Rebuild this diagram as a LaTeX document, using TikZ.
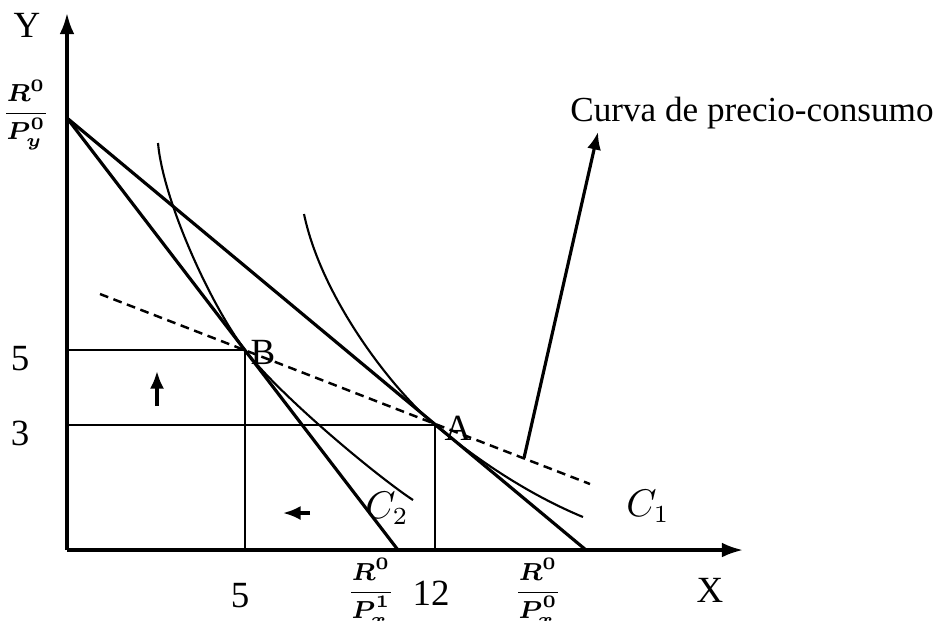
\documentclass[tikz,border=0pt]{standalone}
\usepackage{amsmath}
\usepackage{fontspec}
\setmainfont{Liberation Serif}
\usetikzlibrary{arrows.meta}

\begin{document}
\begin{tikzpicture}[x=0.01cm, y=-0.01cm, >=Latex, line join=round,
    font=\fontsize{10.5}{12}\selectfont,
    eje/.style={line width=0.9pt, -{Latex[length=6pt,width=4.2pt]}},
    recta/.style={line width=0.9pt},
    curva/.style={line width=0.6pt},
    guia/.style={line width=0.6pt},
    flecha/.style={line width=0.9pt, -{Latex[length=5pt,width=4pt]}},
    fraccion/.style={font=\fontsize{7}{8}\selectfont, inner sep=0pt}]
  % Marco (coordenadas en pixeles)
  \useasboundingbox (0,0) rectangle (937,620);

  % Puntos principales
  \coordinate (O) at (67,550);
  \coordinate (Ytop) at (67,13);
  \coordinate (Xend) at (743,550);
  \coordinate (Ry) at (67,118);
  \coordinate (Rx0) at (586,550);
  \coordinate (Rx1) at (398,550);
  \coordinate (A) at (435,425);
  \coordinate (B) at (245,350);

  % Ejes
  \draw[eje] (O) -- (Ytop);
  \draw[eje] (O) -- (Xend);
  \node (ylab) at (27,25) {Y};
  \node (xlab) at (710,590) {X};

  % Rectas de presupuesto
  \draw[recta] (Ry) -- (Rx0);
  \draw[recta] (Ry) -- (Rx1);

  % Lineas guia hacia los ejes
  \draw[guia] (67,425) -- (A) -- (435,550);
  \draw[guia] (67,350) -- (B) -- (245,550);

  % Curvas de indiferencia
  \draw[curva] (158,143) .. controls (163,200) and (210,304) .. (B)
               .. controls (280,396) and (378,477) .. (413,500);
  \draw[curva] (304,214) .. controls (322,300) and (395,392) .. (A)
               .. controls (480,462) and (530,495) .. (583,517);

  % Curva de precio-consumo
  \coordinate (pc1) at (100,294);
  \coordinate (pc2) at (590,484);
  \draw[line width=0.7pt, dash pattern=on 2.5pt off 1.6pt] (pc1) -- (pc2);
  \node[font=\fontsize{10}{12}\selectfont] (cpc) at (752,113) {Curva de precio-consumo};
  \coordinate (pcfoot) at (524,458);
  \coordinate (pctip) at (598,132);
  \draw[flecha] (pcfoot) -- (pctip);

  % Flechas de desplazamiento
  \draw[flecha] (157,406) -- (157,371);
  \draw[flecha] (310,513) -- (283,513);

  % Etiquetas
  \node (la) at (458,428) {A};
  \node (lb) at (263,352) {B};
  \node (c2) at (387,508) {$C_2$};
  \node (c1) at (648,506) {$C_1$};
  \node (y5) at (20,359) {5};
  \node (y3) at (20,433) {3};
  \node (x5) at (240,596) {5};
  \node (x12) at (431,593) {12};
  \node[fraccion] (ry) at (26,115) {$\dfrac{\boldsymbol{R^0}}{\boldsymbol{P_y^0}}$};
  \node[fraccion] (rx1) at (371,592) {$\dfrac{\boldsymbol{R^0}}{\boldsymbol{P_x^1}}$};
  \node[fraccion] (rx0) at (538,592) {$\dfrac{\boldsymbol{R^0}}{\boldsymbol{P_x^0}}$};
\end{tikzpicture}
\end{document}
